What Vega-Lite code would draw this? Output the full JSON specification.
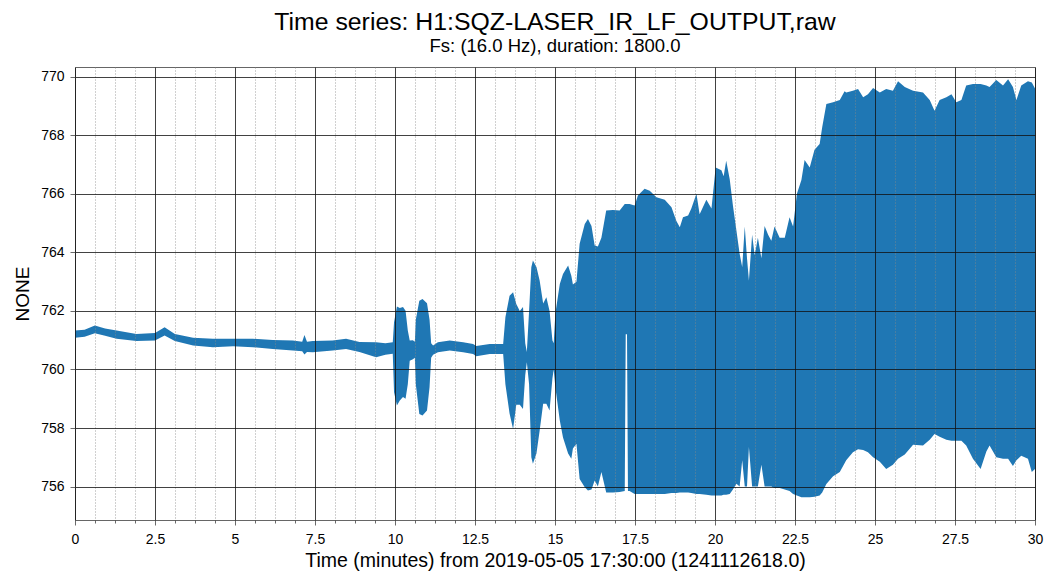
{
  "$schema": "https://vega.github.io/schema/vega-lite/v6.json",
  "width": 960,
  "height": 453,
  "autosize": "none",
  "padding": {"left": 75, "top": 67, "right": 19, "bottom": 61},
  "background": "white",
  "title": {
    "text": "Time series: H1:SQZ-LASER_IR_LF_OUTPUT,raw",
    "subtitle": "Fs: (16.0 Hz), duration: 1800.0",
    "anchor": "middle",
    "frame": "group",
    "font": "Liberation Sans",
    "fontSize": 24.8,
    "fontWeight": "normal",
    "color": "#000",
    "subtitleFont": "Liberation Sans",
    "subtitleFontSize": 18.5,
    "subtitleColor": "#000",
    "subtitlePadding": 2,
    "offset": 12
  },
  "data": {
    "values": [
      {"t": 0, "lo": 761.08, "hi": 761.33},
      {"t": 0.3, "lo": 761.12, "hi": 761.36},
      {"t": 0.62, "lo": 761.24, "hi": 761.5},
      {"t": 0.94, "lo": 761.15, "hi": 761.4},
      {"t": 1.3, "lo": 761.05, "hi": 761.33},
      {"t": 1.92, "lo": 760.97, "hi": 761.21},
      {"t": 2.5, "lo": 760.99, "hi": 761.25},
      {"t": 2.8, "lo": 761.16, "hi": 761.44},
      {"t": 3.12, "lo": 760.97, "hi": 761.21},
      {"t": 3.69, "lo": 760.82, "hi": 761.08},
      {"t": 4.31, "lo": 760.76, "hi": 761.05},
      {"t": 4.94, "lo": 760.79, "hi": 761.05},
      {"t": 5.56, "lo": 760.76, "hi": 761.05},
      {"t": 6.18, "lo": 760.7, "hi": 761.01},
      {"t": 6.81, "lo": 760.65, "hi": 760.99},
      {"t": 7.1, "lo": 760.62, "hi": 760.95},
      {"t": 7.17, "lo": 760.51, "hi": 761.18},
      {"t": 7.25, "lo": 760.6, "hi": 760.95},
      {"t": 7.43, "lo": 760.59, "hi": 760.97},
      {"t": 8.05, "lo": 760.65, "hi": 760.99},
      {"t": 8.47, "lo": 760.7, "hi": 761.05},
      {"t": 8.89, "lo": 760.6, "hi": 760.94},
      {"t": 9.41, "lo": 760.42, "hi": 760.93},
      {"t": 9.7, "lo": 760.5, "hi": 760.9},
      {"t": 9.93, "lo": 760.54, "hi": 760.93},
      {"t": 9.97, "lo": 759.22, "hi": 761.61},
      {"t": 10.06, "lo": 758.77, "hi": 762.15},
      {"t": 10.15, "lo": 758.94, "hi": 762.1},
      {"t": 10.25, "lo": 759.06, "hi": 762.13},
      {"t": 10.33, "lo": 759.0, "hi": 762.01},
      {"t": 10.4, "lo": 759.5, "hi": 761.33},
      {"t": 10.46, "lo": 760.3, "hi": 760.99},
      {"t": 10.56, "lo": 760.35, "hi": 761.0},
      {"t": 10.62, "lo": 760.4, "hi": 760.95},
      {"t": 10.65, "lo": 759.5, "hi": 761.7},
      {"t": 10.76, "lo": 758.48, "hi": 762.35},
      {"t": 10.86, "lo": 758.43, "hi": 762.41},
      {"t": 11.0, "lo": 758.6, "hi": 762.26},
      {"t": 11.08, "lo": 759.4, "hi": 761.7},
      {"t": 11.13, "lo": 760.4, "hi": 760.9},
      {"t": 11.19, "lo": 760.5, "hi": 760.82},
      {"t": 11.34, "lo": 760.59, "hi": 760.93},
      {"t": 11.71, "lo": 760.65, "hi": 760.99},
      {"t": 12.13, "lo": 760.59, "hi": 760.93},
      {"t": 12.44, "lo": 760.53, "hi": 760.87},
      {"t": 12.54, "lo": 760.45, "hi": 760.8},
      {"t": 12.96, "lo": 760.53, "hi": 760.87},
      {"t": 13.38, "lo": 760.53, "hi": 760.87},
      {"t": 13.45, "lo": 759.5, "hi": 761.78},
      {"t": 13.58, "lo": 758.5, "hi": 762.52},
      {"t": 13.69, "lo": 757.97, "hi": 762.64},
      {"t": 13.79, "lo": 758.8, "hi": 762.24},
      {"t": 13.9, "lo": 758.8, "hi": 762.0},
      {"t": 14.0, "lo": 758.65, "hi": 762.13},
      {"t": 14.07, "lo": 759.8, "hi": 760.9},
      {"t": 14.12, "lo": 760.25, "hi": 760.6},
      {"t": 14.19, "lo": 759.5, "hi": 762.0},
      {"t": 14.26, "lo": 757.0, "hi": 763.49},
      {"t": 14.31, "lo": 756.78, "hi": 763.72},
      {"t": 14.42, "lo": 757.13, "hi": 763.5},
      {"t": 14.52, "lo": 757.91, "hi": 763.04},
      {"t": 14.63, "lo": 758.83, "hi": 762.25},
      {"t": 14.73, "lo": 758.83, "hi": 762.47},
      {"t": 14.83, "lo": 758.6, "hi": 762.0},
      {"t": 14.92, "lo": 759.7, "hi": 760.99},
      {"t": 14.96, "lo": 760.0, "hi": 760.9},
      {"t": 15.01, "lo": 759.4, "hi": 761.9},
      {"t": 15.15, "lo": 758.26, "hi": 762.92},
      {"t": 15.25, "lo": 757.68, "hi": 763.26},
      {"t": 15.41, "lo": 757.13, "hi": 763.55},
      {"t": 15.51, "lo": 756.95, "hi": 763.2},
      {"t": 15.56, "lo": 757.3, "hi": 762.9},
      {"t": 15.67, "lo": 757.46, "hi": 763.0},
      {"t": 15.77, "lo": 756.26, "hi": 764.29},
      {"t": 15.93, "lo": 755.98, "hi": 764.97},
      {"t": 16.03, "lo": 755.87, "hi": 765.14},
      {"t": 16.14, "lo": 755.9, "hi": 764.9},
      {"t": 16.24, "lo": 756.21, "hi": 764.23},
      {"t": 16.34, "lo": 756.0, "hi": 764.2},
      {"t": 16.45, "lo": 756.5, "hi": 764.5},
      {"t": 16.6, "lo": 755.8, "hi": 765.43},
      {"t": 16.81, "lo": 755.8, "hi": 765.45},
      {"t": 17.02, "lo": 755.82, "hi": 765.43},
      {"t": 17.18, "lo": 755.85, "hi": 765.65},
      {"t": 17.21, "lo": 761.2, "hi": 765.65},
      {"t": 17.25, "lo": 761.2, "hi": 765.65},
      {"t": 17.28, "lo": 755.85, "hi": 765.65},
      {"t": 17.33, "lo": 755.85, "hi": 765.65},
      {"t": 17.49, "lo": 755.75, "hi": 765.6},
      {"t": 17.59, "lo": 755.75, "hi": 765.94},
      {"t": 17.8, "lo": 755.75, "hi": 766.17},
      {"t": 17.96, "lo": 755.75, "hi": 766.1},
      {"t": 18.17, "lo": 755.75, "hi": 765.88},
      {"t": 18.43, "lo": 755.75, "hi": 765.8},
      {"t": 18.64, "lo": 755.78, "hi": 765.54},
      {"t": 18.79, "lo": 755.78, "hi": 765.08},
      {"t": 18.9, "lo": 755.8, "hi": 764.86},
      {"t": 19.0, "lo": 755.8, "hi": 765.2},
      {"t": 19.16, "lo": 755.8, "hi": 765.26},
      {"t": 19.26, "lo": 755.78, "hi": 765.5},
      {"t": 19.42, "lo": 755.75, "hi": 766.0},
      {"t": 19.52, "lo": 755.75, "hi": 765.3},
      {"t": 19.73, "lo": 755.72, "hi": 765.8},
      {"t": 19.89, "lo": 755.7, "hi": 765.5},
      {"t": 20.02, "lo": 755.7, "hi": 766.9},
      {"t": 20.2, "lo": 755.7, "hi": 766.8},
      {"t": 20.27, "lo": 755.72, "hi": 766.6},
      {"t": 20.35, "lo": 755.72, "hi": 767.13},
      {"t": 20.46, "lo": 755.75, "hi": 766.5},
      {"t": 20.56, "lo": 755.9, "hi": 765.6},
      {"t": 20.67, "lo": 756.1, "hi": 764.74},
      {"t": 20.77, "lo": 756.0, "hi": 763.95},
      {"t": 20.85, "lo": 756.9, "hi": 763.5},
      {"t": 20.93, "lo": 756.0, "hi": 764.88},
      {"t": 21.0, "lo": 756.0, "hi": 763.8},
      {"t": 21.06, "lo": 757.35, "hi": 763.04},
      {"t": 21.16, "lo": 756.0, "hi": 764.6},
      {"t": 21.24, "lo": 756.0, "hi": 763.9},
      {"t": 21.34, "lo": 756.0, "hi": 764.5},
      {"t": 21.45, "lo": 756.75, "hi": 763.8},
      {"t": 21.55, "lo": 756.0, "hi": 764.9},
      {"t": 21.66, "lo": 756.0, "hi": 764.6},
      {"t": 21.76, "lo": 756.0, "hi": 764.4},
      {"t": 21.86, "lo": 755.95, "hi": 764.88},
      {"t": 22.02, "lo": 755.95, "hi": 764.5},
      {"t": 22.18, "lo": 755.9, "hi": 764.5},
      {"t": 22.33, "lo": 755.85, "hi": 765.2},
      {"t": 22.44, "lo": 755.75, "hi": 764.88},
      {"t": 22.56, "lo": 755.7, "hi": 766.0},
      {"t": 22.7, "lo": 755.64, "hi": 766.47},
      {"t": 22.8, "lo": 755.64, "hi": 767.15},
      {"t": 22.96, "lo": 755.64, "hi": 766.9},
      {"t": 23.11, "lo": 755.65, "hi": 767.5},
      {"t": 23.27, "lo": 755.7, "hi": 767.7},
      {"t": 23.35, "lo": 755.8, "hi": 768.27},
      {"t": 23.48, "lo": 756.09, "hi": 769.07},
      {"t": 23.69, "lo": 756.35, "hi": 769.13},
      {"t": 23.9, "lo": 756.5, "hi": 769.2},
      {"t": 24.05, "lo": 756.8, "hi": 769.5},
      {"t": 24.1, "lo": 756.9, "hi": 769.46},
      {"t": 24.31, "lo": 757.17, "hi": 769.52},
      {"t": 24.47, "lo": 757.28, "hi": 769.58},
      {"t": 24.63, "lo": 757.25, "hi": 769.3},
      {"t": 24.78, "lo": 757.17, "hi": 769.4},
      {"t": 24.94, "lo": 757.0, "hi": 769.61},
      {"t": 25.15, "lo": 756.85, "hi": 769.46},
      {"t": 25.35, "lo": 756.6, "hi": 769.58},
      {"t": 25.56, "lo": 756.75, "hi": 769.52},
      {"t": 25.72, "lo": 756.95, "hi": 769.84},
      {"t": 25.93, "lo": 757.1, "hi": 769.65},
      {"t": 26.19, "lo": 757.43, "hi": 769.52},
      {"t": 26.5, "lo": 757.4, "hi": 769.46},
      {"t": 26.71, "lo": 757.6, "hi": 769.2},
      {"t": 26.86, "lo": 757.8, "hi": 768.84},
      {"t": 27.02, "lo": 757.7, "hi": 769.2},
      {"t": 27.23, "lo": 757.6, "hi": 769.3},
      {"t": 27.39, "lo": 757.57, "hi": 769.4},
      {"t": 27.54, "lo": 757.57, "hi": 769.13},
      {"t": 27.7, "lo": 757.57, "hi": 769.2},
      {"t": 27.85, "lo": 757.4, "hi": 769.7},
      {"t": 28.06, "lo": 756.95, "hi": 769.75},
      {"t": 28.3, "lo": 756.6, "hi": 769.75},
      {"t": 28.48, "lo": 757.2, "hi": 769.7},
      {"t": 28.58, "lo": 757.4, "hi": 769.65},
      {"t": 28.79, "lo": 757.0, "hi": 769.89},
      {"t": 29.0, "lo": 756.95, "hi": 769.7},
      {"t": 29.16, "lo": 756.95, "hi": 769.91},
      {"t": 29.31, "lo": 756.7, "hi": 769.65},
      {"t": 29.42, "lo": 756.9, "hi": 769.2},
      {"t": 29.57, "lo": 757.05, "hi": 769.7},
      {"t": 29.78, "lo": 756.95, "hi": 769.84},
      {"t": 29.9, "lo": 756.5, "hi": 769.8},
      {"t": 30.0, "lo": 756.6, "hi": 769.6}
    ]
  },
  "layer": [
    {
      "mark": {"type": "area", "color": "#1f77b4", "interpolate": "linear"},
      "encoding": {
        "x": {
          "field": "t",
          "type": "quantitative",
          "scale": {"domain": [0, 30], "nice": false, "zero": false},
          "axis": {
            "orient": "bottom",
            "values": [0.625, 1.25, 1.875, 3.125, 3.75, 4.375, 5.625, 6.25, 6.875, 8.125, 8.75, 9.375, 10.625, 11.25, 11.875, 13.125, 13.75, 14.375, 15.625, 16.25, 16.875, 18.125, 18.75, 19.375, 20.625, 21.25, 21.875, 23.125, 23.75, 24.375, 25.625, 26.25, 26.875, 28.125, 28.75, 29.375],
            "labels": false,
            "title": null,
            "domain": false,
            "grid": true,
            "gridColor": "#888",
            "gridDash": [1, 2],
            "gridWidth": 0.8,
            "tickSize": 3,
            "tickColor": "#444",
            "tickWidth": 0.8,
            "zindex": 1
          }
        },
        "y": {
          "field": "lo",
          "type": "quantitative",
          "scale": {"domain": [754.86, 770.33], "nice": false, "zero": false},
          "axis": {
            "values": [756, 758, 760, 762, 764, 766, 768, 770],
            "format": "d",
            "title": "NONE",
            "titleFont": "Liberation Sans",
            "titleFontSize": 19,
            "titleFontWeight": "normal",
            "titleColor": "#000",
            "titlePadding": 8,
            "labelFont": "Liberation Sans",
            "labelFontSize": 14,
            "labelColor": "#000",
            "labelPadding": 6,
            "domain": false,
            "grid": true,
            "gridColor": "#111",
            "gridWidth": 0.8,
            "tickSize": 5,
            "tickColor": "#444",
            "tickWidth": 0.8,
            "zindex": 1
          }
        },
        "y2": {"field": "hi"}
      }
    },
    {
      "mark": {"type": "area", "opacity": 0},
      "encoding": {
        "x": {
          "field": "t",
          "type": "quantitative",
          "scale": {"domain": [0, 30], "nice": false, "zero": false},
          "axis": {
            "orient": "bottom",
            "values": [0, 2.5, 5, 7.5, 10, 12.5, 15, 17.5, 20, 22.5, 25, 27.5, 30],
            "format": ".4~g",
            "title": "Time (minutes) from 2019-05-05 17:30:00 (1241112618.0)",
            "titleFont": "Liberation Sans",
            "titleFontSize": 19.5,
            "titleFontWeight": "normal",
            "titleColor": "#000",
            "titlePadding": 5,
            "labelFont": "Liberation Sans",
            "labelFontSize": 14,
            "labelColor": "#000",
            "labelPadding": 7,
            "labelFlush": false,
            "domain": false,
            "grid": true,
            "gridColor": "#111",
            "gridWidth": 0.8,
            "tickSize": 5,
            "tickColor": "#444",
            "tickWidth": 0.8,
            "zindex": 1
          }
        },
        "y": {"field": "lo", "type": "quantitative"},
        "y2": {"field": "hi"}
      }
    }
  ],
  "resolve": {"axis": {"x": "independent"}},
  "config": {
    "font": "Liberation Sans",
    "view": {"stroke": "#666", "strokeWidth": 1}
  }
}
